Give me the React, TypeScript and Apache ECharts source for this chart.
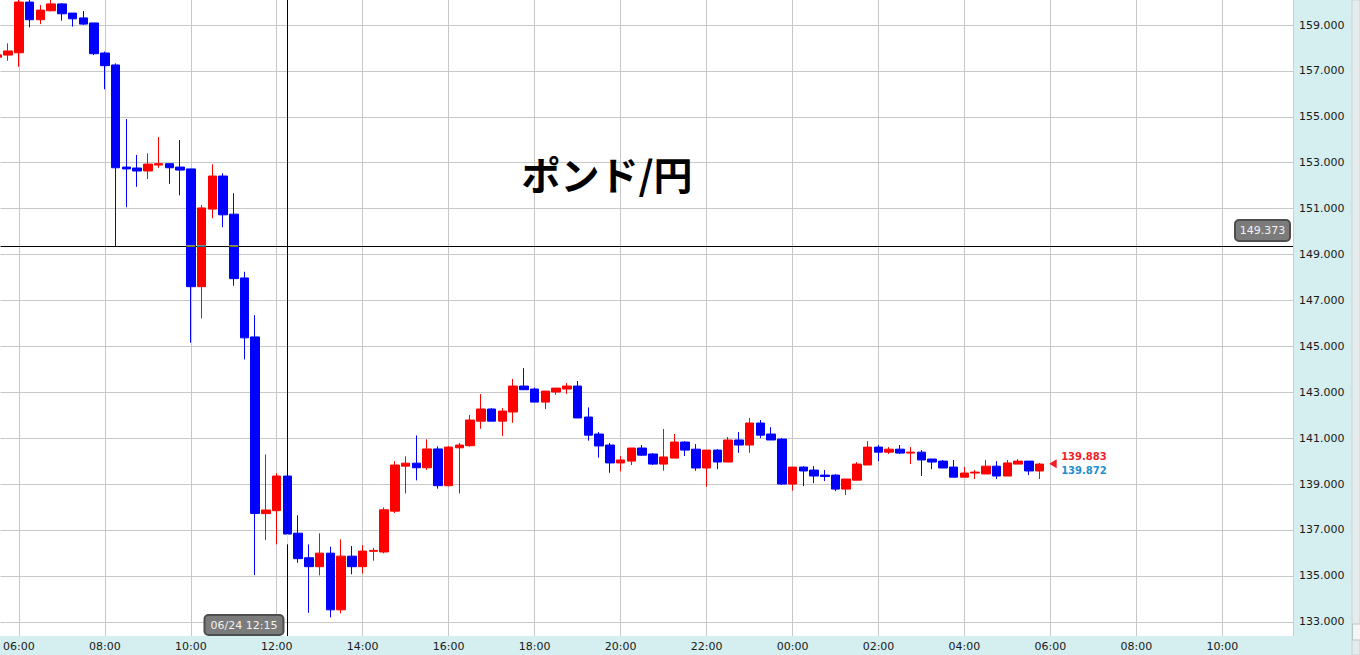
import React, { useEffect, useRef } from "react";
import * as echarts from "echarts";

// 15-minute candles, 06/24 05:30 → 06/25 05:45
const timeLabels = [
  "05:30","05:45","06:00","06:15","06:30","06:45","07:00","07:15","07:30","07:45",
  "08:00","08:15","08:30","08:45","09:00","09:15","09:30","09:45","10:00","10:15",
  "10:30","10:45","11:00","11:15","11:30","11:45","12:00","12:15","12:30","12:45",
  "13:00","13:15","13:30","13:45","14:00","14:15","14:30","14:45","15:00","15:15",
  "15:30","15:45","16:00","16:15","16:30","16:45","17:00","17:15","17:30","17:45",
  "18:00","18:15","18:30","18:45","19:00","19:15","19:30","19:45","20:00","20:15",
  "20:30","20:45","21:00","21:15","21:30","21:45","22:00","22:15","22:30","22:45",
  "23:00","23:15","23:30","23:45","00:00","00:15","00:30","00:45","01:00","01:15",
  "01:30","01:45","02:00","02:15","02:30","02:45","03:00","03:15","03:30","03:45",
  "04:00","04:15","04:30","04:45","05:00","05:15","05:30","05:45",
];

const opens = [
  157.60,157.69,157.79,160.00,159.23,159.62,159.92,159.52,159.31,159.09,
  157.78,157.26,152.81,152.77,152.64,152.90,152.96,152.81,152.73,147.60,
  150.98,152.42,150.76,147.98,145.41,137.71,137.84,139.35,136.86,135.79,
  135.40,135.99,133.52,135.86,135.40,136.07,136.04,137.82,139.78,139.91,
  139.71,140.53,138.93,140.58,140.67,141.74,142.27,141.74,142.14,143.27,
  143.14,142.57,143.01,143.14,143.27,141.92,141.18,140.70,139.92,140.00,
  140.57,140.31,139.87,140.13,140.83,140.52,139.70,140.48,139.96,140.92,
  140.70,141.66,141.18,140.96,139.00,139.74,139.61,139.39,139.39,138.78,
  139.17,139.83,140.61,140.39,140.52,140.35,140.39,140.09,140.00,139.74,
  139.30,139.48,139.44,139.78,139.35,139.87,140.00,139.57,
];

const closes = [
  157.70,157.87,160.00,159.23,159.65,159.92,159.49,159.27,159.04,157.75,
  157.23,152.78,152.73,152.64,152.94,152.96,152.78,152.68,147.60,151.03,
  152.42,150.73,147.95,145.37,137.72,137.87,139.35,136.82,135.75,135.40,
  135.99,133.52,135.86,135.40,136.08,136.11,137.88,139.83,139.91,139.71,
  140.53,138.93,140.61,140.70,141.79,142.27,141.74,142.18,143.27,143.11,
  142.57,143.05,143.18,143.27,141.88,141.13,140.66,139.92,140.05,140.57,
  140.26,139.87,140.18,140.83,140.48,139.70,140.48,139.96,140.92,140.70,
  141.66,141.13,140.92,139.00,139.74,139.57,139.35,139.33,138.78,139.22,
  139.87,140.61,140.39,140.52,140.35,140.39,140.05,139.96,139.70,139.30,
  139.48,139.52,139.78,139.35,139.92,140.00,139.57,139.87,
];

const lows = [
  157.50,157.44,157.18,158.90,159.04,159.60,159.19,158.93,159.00,157.69,
  156.20,149.34,151.06,151.95,152.29,152.78,152.08,151.58,145.16,146.22,
  150.58,150.19,147.64,144.43,135.03,136.56,136.37,136.37,135.57,133.39,
  135.02,133.19,133.37,135.07,135.11,135.66,135.98,137.74,138.59,139.16,
  139.62,138.80,138.90,138.59,140.63,141.41,141.74,141.10,141.67,143.11,
  142.57,142.27,142.89,142.93,141.88,140.89,140.15,139.49,139.55,139.83,
  140.22,139.83,139.58,140.13,140.22,139.58,138.88,139.65,139.96,140.36,
  140.36,141.00,140.92,138.96,138.71,138.91,139.04,139.13,138.69,138.52,
  139.17,139.83,140.00,140.31,140.31,139.87,139.35,139.65,139.70,139.30,
  139.30,139.22,139.44,139.22,139.35,139.87,139.39,139.22,
];

const highs = [
  157.80,158.20,160.10,160.10,159.87,160.09,159.95,159.52,159.61,159.09,
  157.84,157.33,154.90,153.34,153.41,154.12,152.96,153.99,152.73,151.16,
  152.93,152.54,151.67,148.25,146.36,140.29,139.47,139.35,137.64,136.37,
  136.85,136.27,136.59,136.30,136.34,136.22,137.98,140.00,140.21,141.12,
  140.95,140.64,140.65,140.79,142.01,142.92,142.31,142.31,143.58,144.05,
  143.20,143.05,143.18,143.40,143.49,142.34,141.27,140.79,140.22,140.57,
  140.70,140.35,141.40,141.18,140.87,140.74,140.48,140.52,141.05,141.27,
  141.88,141.79,141.48,141.00,139.74,139.78,139.78,139.61,139.43,139.22,
  139.96,140.87,140.70,140.61,140.70,140.61,140.48,140.09,140.05,140.05,
  139.74,139.61,140.05,140.00,140.05,140.09,140.00,139.92,
];

// axis ticks (hours from 06/24 00:00) and price ticks
const xTickHours = [6, 8, 10, 12, 14, 16, 18, 20, 22, 24, 26, 28, 30, 32, 34];
const yTickValues = [133, 135, 137, 139, 141, 143, 145, 147, 149, 151, 153, 155, 157, 159];
const xRange = [5.5744, 35.644];
const yRange = [132.38, 160.09];

const titleText = "ポンド/円";
const crossDate = "06/24";
const crossTime = "12:15";
const crossPrice = 149.373;
const bidPrice = 139.883;
const askPrice = 139.872;

const UP = "#ff0000";
const DOWN = "#0000ff";

const toHours = (labels: string[]) => {
  let offset = 0;
  let prev = -1;
  return labels.map((s) => {
    const [hh, mm] = s.split(":").map(Number);
    let h = hh + mm / 60 + offset;
    if (h < prev) {
      offset += 24;
      h += 24;
    }
    prev = h;
    return h;
  });
};

const pad2 = (n: number) => (n < 10 ? "0" + n : String(n));

export default function App() {
  const ref = useRef<HTMLDivElement>(null);

  useEffect(() => {
    if (!ref.current) return;
    const chart = echarts.init(ref.current, undefined, { renderer: "svg" });
    const hours = toHours(timeLabels);
    const rows = hours.map((t, i) => [t, opens[i], closes[i], lows[i], highs[i]]);
    const [ch, cm] = crossTime.split(":").map(Number);
    const crossHour = ch + cm / 60;

    const font = "DejaVu Sans, Verdana, sans-serif";
    const barW = 9;

    chart.setOption({
      animation: false,
      backgroundColor: "#ffffff",
      grid: { left: 0, top: 0, right: 67, bottom: 19, containLabel: false },
      xAxis: {
        type: "value",
        min: xRange[0],
        max: xRange[1],
        axisLine: { show: false },
        axisTick: { show: false, customValues: xTickHours },
        axisLabel: {
          customValues: xTickHours,
          formatter: (v: number) => pad2(Math.round(v) % 24) + ":00",
          color: "#1a1a1a",
          fontSize: 11,
          fontFamily: font,
          margin: 5,
        },
        splitLine: { show: true, lineStyle: { color: "#c8c8c8", width: 1 } },
      },
      yAxis: {
        type: "value",
        position: "right",
        min: yRange[0],
        max: yRange[1],
        axisLine: { show: false },
        axisTick: { show: false, customValues: yTickValues },
        axisLabel: {
          customValues: yTickValues,
          formatter: (v: number) => v.toFixed(3),
          color: "#1a1a1a",
          fontSize: 11,
          fontFamily: font,
          margin: 6,
        },
        splitLine: { show: true, lineStyle: { color: "#c8c8c8", width: 1 } },
      },
      series: [
        {
          type: "candlestick",
          data: rows,
          barWidth: barW,
          itemStyle: {
            color: UP,
            color0: DOWN,
            borderColor: UP,
            borderColor0: DOWN,
            borderWidth: 1,
          },
          markLine: {
            silent: true,
            symbol: ["none", "none"],
            label: { show: false },
            lineStyle: { color: "#000000", width: 1, type: "solid" },
            data: [{ xAxis: crossHour }, { yAxis: crossPrice }],
          },
        },
      ],
    });

    const px = (t: number, v: number) =>
      chart.convertToPixel({ xAxisIndex: 0, yAxisIndex: 0 }, [t, v]) as number[];
    const [gridRight, gridBottom] = px(xRange[1], yRange[0]);
    const [crossX, crossY] = px(crossHour, crossPrice);
    const lastT = hours[hours.length - 1];
    const [lastX, priceY] = px(lastT, bidPrice);
    const band = "#d5eef0";
    const W = 1360;
    const H = 655;
    const scrollX = 1352;

    // inverted crosshair segments where the crosshair crosses candle bodies
    const inverted: any[] = [];
    hours.forEach((t, i) => {
      const lo = Math.min(opens[i], closes[i]);
      const hi = Math.max(opens[i], closes[i]);
      const isUp = closes[i] >= opens[i];
      const inv = isUp ? "#00ffff" : "#ffff00";
      if (crossPrice > lo && crossPrice < hi) {
        const [cx] = px(t, crossPrice);
        inverted.push({
          type: "line",
          z: 15,
          shape: { x1: cx - barW / 2, y1: crossY, x2: cx + barW / 2, y2: crossY },
          style: { stroke: inv, lineWidth: 1 },
        });
      }
      if (Math.abs(t - crossHour) < 1e-6) {
        const [, yLow] = px(t, lows[i]);
        const [, yLoBody] = px(t, lo);
        inverted.push({
          type: "line",
          z: 15,
          shape: { x1: crossX, y1: yLoBody, x2: crossX, y2: yLow },
          style: { stroke: inv, lineWidth: 1 },
        });
      }
    });

    chart.setOption({
      graphic: [
        {
          type: "rect",
          z: -10,
          shape: { x: gridRight, y: 0, width: scrollX - gridRight, height: H },
          style: { fill: band },
        },
        {
          type: "rect",
          z: -10,
          shape: { x: 0, y: gridBottom, width: scrollX, height: H - gridBottom },
          style: { fill: band },
        },
        {
          type: "line",
          z: 5,
          shape: { x1: gridRight + 0.5, y1: 0, x2: gridRight + 0.5, y2: gridBottom },
          style: { stroke: "#c0d4d8", lineWidth: 1 },
        },
        {
          type: "rect",
          z: 5,
          shape: { x: scrollX, y: 0, width: W - scrollX, height: H },
          style: { fill: "#e6ecee", stroke: "#c4d2d6", lineWidth: 1 },
        },
        {
          type: "rect",
          z: 6,
          shape: { x: scrollX + 0.5, y: 624, width: W - scrollX, height: 16 },
          style: { fill: "#f4f6f6", stroke: "#b8c4c8", lineWidth: 1 },
        },
        ...inverted,
        // title
        {
          type: "text",
          z: 20,
          x: 607,
          y: 173,
          style: {
            text: titleText,
            fill: "#000000",
            font: "bold 39px 'Noto Sans CJK JP', sans-serif",
            align: "center",
            verticalAlign: "middle",
          },
        },
        // crosshair time box
        {
          type: "rect",
          z: 20,
          shape: { x: crossX - 83, y: gridBottom - 21, width: 79, height: 20, r: 4 },
          style: { fill: "#7b7b7b", stroke: "#4e4e4e", lineWidth: 2 },
        },
        {
          type: "text",
          z: 21,
          x: crossX - 43.5,
          y: gridBottom - 11,
          style: {
            text: crossDate + " " + crossTime,
            fill: "#f2f2f2",
            font: "11px 'DejaVu Sans', sans-serif",
            align: "center",
            verticalAlign: "middle",
          },
        },
        // crosshair price box
        {
          type: "rect",
          z: 20,
          shape: { x: gridRight - 58, y: crossY - 26, width: 55, height: 21, r: 4 },
          style: { fill: "#7b7b7b", stroke: "#4e4e4e", lineWidth: 2 },
        },
        {
          type: "text",
          z: 21,
          x: gridRight - 30.5,
          y: crossY - 15.5,
          style: {
            text: crossPrice.toFixed(3),
            fill: "#f2f2f2",
            font: "11px 'DejaVu Sans', sans-serif",
            align: "center",
            verticalAlign: "middle",
          },
        },
        // last price marker
        {
          type: "polygon",
          z: 20,
          shape: {
            points: [
              [lastX + 9.5, priceY],
              [lastX + 17, priceY - 4.5],
              [lastX + 17, priceY + 4.5],
            ],
          },
          style: { fill: "#f01e28" },
        },
        {
          type: "text",
          z: 20,
          x: lastX + 21.5,
          y: priceY - 7.5,
          style: {
            text: bidPrice.toFixed(3),
            fill: "#f01e28",
            font: "bold 10px 'DejaVu Sans', sans-serif",
            align: "left",
            verticalAlign: "middle",
          },
        },
        {
          type: "text",
          z: 20,
          x: lastX + 21.5,
          y: priceY + 6.5,
          style: {
            text: askPrice.toFixed(3),
            fill: "#1e8fd0",
            font: "bold 10px 'DejaVu Sans', sans-serif",
            align: "left",
            verticalAlign: "middle",
          },
        },
      ],
    });

    return () => chart.dispose();
  }, []);

  return (
    <div
      ref={ref}
      style={{ position: "fixed", left: 0, top: 0, width: 1360, height: 655 }}
    />
  );
}
